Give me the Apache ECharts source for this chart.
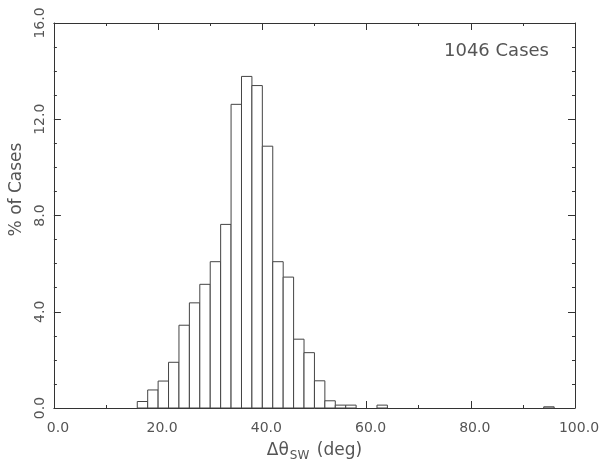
<!DOCTYPE html>
<html>
<head>
<meta charset="utf-8">
<script src="https://cdn.jsdelivr.net/npm/echarts@6/dist/echarts.min.js"></script>
<style>
html,body{margin:0;padding:0;background:#fff;}
#chart{width:603px;height:467px;}
</style>
</head>
<body>
<div id="chart"></div>
<script>
// Histogram bins: left edge of each 2-degree bin and the % of cases in it
const binStarts = [16, 18, 20, 22, 24, 26, 28, 30, 32, 34, 36, 38, 40, 42, 44, 46, 48, 50, 52, 54, 56, 62, 94];
const percentCases = [0.27, 0.75, 1.12, 1.9, 3.44, 4.37, 5.14, 6.08, 7.63, 12.62, 13.78, 13.4, 10.88, 6.08, 5.44, 2.86, 2.3, 1.13, 0.3, 0.12, 0.12, 0.12, 0.05];
const binWidth = 2;
const xTickLabels = [0, 20, 40, 60, 80, 100];
const yTickLabels = [0, 4, 8, 12, 16];
const annotation = '1046 Cases';

const textColor = '#555';
const lineColor = '#333';
const font = 'DejaVu Sans';

const data = binStarts.map((b, i) => [b, percentCases[i]]);

function xAxisBase(pos) {
  return {
    type: 'value', position: pos, min: 0, max: 100, interval: 20,
    axisLine: {show: true, onZero: false, lineStyle: {color: lineColor, width: 1}},
    axisTick: {show: true, inside: true, length: 7, lineStyle: {color: lineColor}},
    minorTick: {show: true, splitNumber: 2, length: 3, lineStyle: {color: lineColor}},
    splitLine: {show: false}, minorSplitLine: {show: false}
  };
}
function yAxisBase(pos) {
  return {
    type: 'value', position: pos, min: 0, max: 16, interval: 4,
    axisLine: {show: true, onZero: false, lineStyle: {color: lineColor, width: 1}},
    axisTick: {show: true, inside: true, length: 7, lineStyle: {color: lineColor}},
    minorTick: {show: true, splitNumber: 4, length: 3, lineStyle: {color: lineColor}},
    splitLine: {show: false}, minorSplitLine: {show: false}
  };
}

const xBottom = Object.assign(xAxisBase('bottom'), {
  axisLabel: {
    show: true, color: textColor, fontFamily: font, fontSize: 14, margin: 13,
    padding: [0, 0, 0, 8],
    customValues: xTickLabels,
    formatter: v => Number(v).toFixed(1)
  },
  name: '{a|Δθ}{sub|SW}{a| (deg)}',
  nameLocation: 'middle', nameGap: 34,
  nameTextStyle: {
    color: textColor, fontFamily: font,
    rich: {
      a: {fontSize: 17, color: textColor, fontFamily: font, verticalAlign: 'top', lineHeight: 20},
      sub: {fontSize: 12, color: textColor, fontFamily: font, verticalAlign: 'bottom', lineHeight: 20, padding: [10, 2, 0, 1]}
    }
  }
});
const xTop = Object.assign(xAxisBase('top'), {axisLabel: {show: false}});

const yLeft = Object.assign(yAxisBase('left'), {
  axisLabel: {
    show: true, color: textColor, fontFamily: font, fontSize: 14, rotate: 90, margin: 7,
    customValues: yTickLabels,
    formatter: v => Number(v).toFixed(1)
  },
  name: '% of Cases', nameLocation: 'middle', nameRotate: 90, nameGap: 22,
  nameTextStyle: {color: textColor, fontFamily: font, fontSize: 17, padding: [0, 0, 0, 52]}
});
const yRight = Object.assign(yAxisBase('right'), {axisLabel: {show: false}});

const chart = echarts.init(document.getElementById('chart'), null, {renderer: 'canvas'});
chart.setOption({
  backgroundColor: '#fff',
  animation: false,
  title: {
    text: annotation, left: 439, top: 37,
    textStyle: {color: textColor, fontFamily: font, fontSize: 18, fontWeight: 'normal'}
  },
  grid: {left: 51, right: 28, top: 23, bottom: 53, containLabel: false},
  xAxis: [xBottom, xTop],
  yAxis: [yLeft, yRight],
  series: [{
    type: 'custom',
    xAxisIndex: 0, yAxisIndex: 0,
    data: data,
    encode: {x: 0, y: 1},
    renderItem: function (params, api) {
      const x0 = api.value(0);
      const v = api.value(1);
      const p0 = api.coord([x0, 0]);
      const p1 = api.coord([x0 + binWidth, v]);
      return {
        type: 'rect',
        shape: {x: p0[0], y: p1[1], width: p1[0] - p0[0], height: p0[1] - p1[1]},
        style: {fill: '#fff', stroke: '#444', lineWidth: 1}
      };
    }
  }]
});
</script>
</body>
</html>
